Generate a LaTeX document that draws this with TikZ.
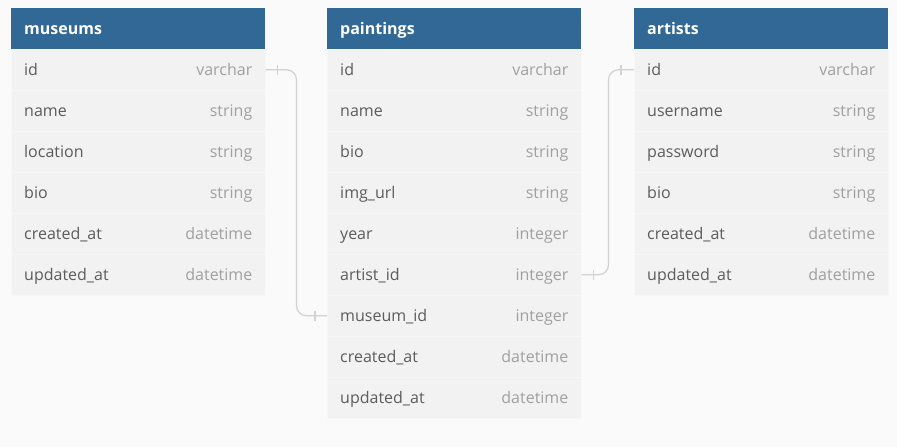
\documentclass[tikz,border=0pt]{standalone}
\usepackage{fontspec}
\setmainfont{Open Sans}
\definecolor{bggray}{HTML}{FAFAFA}
\definecolor{rowgray}{HTML}{F2F2F2}
\definecolor{rowline}{HTML}{F7F7F7}
\definecolor{headblue}{HTML}{316896}
\definecolor{fieldgray}{HTML}{5C5C5C}
\definecolor{typegray}{HTML}{A0A0A0}
\definecolor{linkgray}{HTML}{D2D2D2}
\newcommand{\tabw}{254}
\newcommand{\rowh}{41}
\tikzset{
  tablehead/.style={rectangle, fill=headblue, anchor=north west, minimum width=\tabw pt, minimum height=\rowh pt, inner sep=0pt},
  tablerow/.style={rectangle, fill=rowgray, draw=rowline, line width=0.5pt, anchor=north west, minimum width=\tabw pt, minimum height=\rowh pt, inner sep=0pt},
  headtext/.style={anchor=west, inner sep=0pt, yshift=-2pt, text=white, font=\fontsize{16}{19}\selectfont\bfseries, text height=11pt, text depth=3pt},
  fieldtext/.style={anchor=west, inner sep=0pt, yshift=-2pt, text=fieldgray, font=\fontsize{16}{19}\selectfont, text height=11pt, text depth=3pt},
  typetext/.style={anchor=east, inner sep=0pt, yshift=-2pt, text=typegray, font=\fontsize{16}{19}\selectfont, text height=11pt, text depth=3pt},
  link/.style={draw=linkgray, line width=1.2pt, rounded corners=10pt},
  tick/.style={draw=linkgray, line width=1.2pt}
}

\begin{document}
\begin{tikzpicture}[x=1pt, y=-1pt]
\fill[bggray] (0,0) rectangle (897,447);
\useasboundingbox (0,0) rectangle (897,447);

% museums
\node[tablehead] (museums) at (11, 8) {};
\node[headtext] at ([xshift=13pt]museums.west) {museums};
\foreach \i/\lab/\typ in {1/id/varchar, 2/name/string, 3/location/string, 4/bio/string, 5/created\_at/datetime, 6/updated\_at/datetime} {
\node[tablerow] (museums-\i) at (11, {49+\rowh*(\i-1)}) {};
\node[fieldtext] at ([xshift=13pt]museums-\i.west) {\lab};
\node[typetext] at ([xshift=-13pt]museums-\i.east) {\typ};
}

% paintings
\node[tablehead] (paintings) at (327, 8) {};
\node[headtext] at ([xshift=13pt]paintings.west) {paintings};
\foreach \i/\lab/\typ in {1/id/varchar, 2/name/string, 3/bio/string, 4/img\_url/string, 5/year/integer, 6/artist\_id/integer, 7/museum\_id/integer, 8/created\_at/datetime, 9/updated\_at/datetime} {
\node[tablerow] (paintings-\i) at (327, {49+\rowh*(\i-1)}) {};
\node[fieldtext] at ([xshift=13pt]paintings-\i.west) {\lab};
\node[typetext] at ([xshift=-13pt]paintings-\i.east) {\typ};
}

% artists
\node[tablehead] (artists) at (634, 8) {};
\node[headtext] at ([xshift=13pt]artists.west) {artists};
\foreach \i/\lab/\typ in {1/id/varchar, 2/username/string, 3/password/string, 4/bio/string, 5/created\_at/datetime, 6/updated\_at/datetime} {
\node[tablerow] (artists-\i) at (634, {49+\rowh*(\i-1)}) {};
\node[fieldtext] at ([xshift=13pt]artists-\i.west) {\lab};
\node[typetext] at ([xshift=-13pt]artists-\i.east) {\typ};
}

% links
\draw[link] (museums-1.east) -- ++(31,0) |- (paintings-7.west);
\draw[tick] ([xshift=12pt]museums-1.east) ++(0,-5) -- ++(0,10);
\draw[tick] ([xshift=-12pt]paintings-7.west) ++(0,-5) -- ++(0,10);

\draw[link] (paintings-6.east) -- ++(27,0) |- (artists-1.west);
\draw[tick] ([xshift=12pt]paintings-6.east) ++(0,-5) -- ++(0,10);
\draw[tick] ([xshift=-13pt]artists-1.west) ++(0,-5) -- ++(0,10);

\end{tikzpicture}
\end{document}
